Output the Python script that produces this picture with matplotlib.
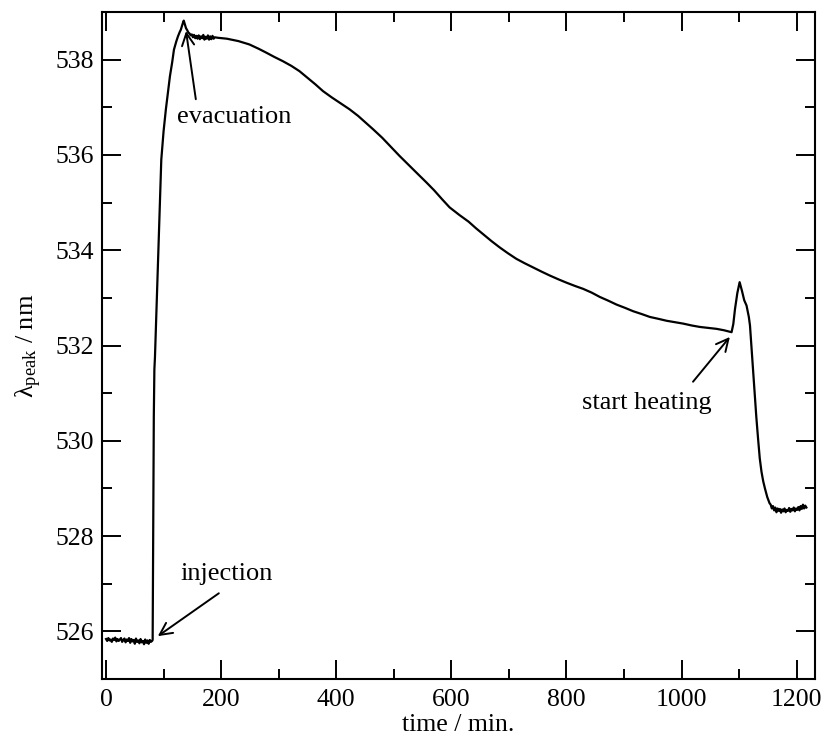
import matplotlib
matplotlib.use("Agg")
import matplotlib.pyplot as plt
from matplotlib.ticker import MultipleLocator

# ---- data ----
t_base = [0, 2, 4, 6, 8, 10, 12, 14, 16, 18, 20, 22, 24, 26, 28, 30, 32, 34, 36, 38, 40,
          42, 44, 46, 48, 50, 52, 54, 56, 58, 60, 62, 64, 66, 68, 70, 72, 74, 76, 78, 80]
v_base = [525.84, 525.80, 525.86, 525.81, 525.83, 525.78, 525.85, 525.82, 525.87, 525.79,
          525.84, 525.80, 525.83, 525.86, 525.78, 525.82, 525.85, 525.77, 525.83, 525.80,
          525.86, 525.76, 525.84, 525.79, 525.82, 525.74, 525.85, 525.78, 525.81, 525.75,
          525.84, 525.77, 525.80, 525.73, 525.83, 525.76, 525.81, 525.74, 525.82, 525.78, 525.80]

t_rise = [81, 82, 83, 84, 85, 87, 89, 91, 93, 96, 100, 104, 108, 111, 115, 118, 122, 125,
          128, 130, 133, 135]
v_rise = [525.82, 528.0, 530.5, 531.5, 531.75, 532.5, 533.25, 534.0, 534.75, 535.9, 536.5,
          536.96, 537.35, 537.65, 537.95, 538.21, 538.38, 538.49, 538.58, 538.63, 538.75,
          538.82]

t_evac = [137, 139, 141, 143, 145, 147, 149, 151, 153, 155, 157, 159, 161, 163, 165, 167,
          169, 171, 173, 175, 177, 179, 181, 183, 185, 187, 189]
v_evac = [538.74, 538.66, 538.62, 538.57, 538.55, 538.51, 538.53, 538.47, 538.52, 538.45,
          538.50, 538.44, 538.51, 538.43, 538.49, 538.45, 538.52, 538.42, 538.48, 538.44,
          538.51, 538.42, 538.49, 538.43, 538.50, 538.44, 538.47]

t_decay = [194, 210, 230, 249, 265, 278, 292, 307, 322, 336, 350, 364, 377, 392, 408, 423,
           438, 451, 464, 480, 495, 510, 525, 541, 557, 570, 584, 597, 614, 630, 643, 655,
           670, 684, 698, 713, 727, 742, 757, 771, 786, 800, 815, 829, 844, 858, 873, 887,
           902, 916, 931, 945, 960, 974, 989, 1003, 1018, 1032, 1047, 1061, 1074, 1087]
v_decay = [538.46, 538.44, 538.39, 538.32, 538.23, 538.15, 538.06, 537.97, 537.87, 537.76,
           537.62, 537.48, 537.34, 537.21, 537.08, 536.96, 536.82, 536.68, 536.54, 536.36,
           536.17, 535.98, 535.80, 535.61, 535.42, 535.26, 535.07, 534.90, 534.74, 534.60,
           534.46, 534.34, 534.19, 534.06, 533.94, 533.82, 533.73, 533.64, 533.55, 533.47,
           533.39, 533.32, 533.25, 533.19, 533.11, 533.02, 532.94, 532.86, 532.79, 532.72,
           532.66, 532.60, 532.56, 532.52, 532.49, 532.46, 532.42, 532.39, 532.37, 532.35,
           532.32, 532.28]

t_heat = [1090, 1093, 1097, 1101, 1105, 1109, 1113, 1117, 1119, 1122, 1125, 1130, 1133,
          1136, 1139, 1142, 1145, 1149, 1153]
v_heat = [532.45, 532.77, 533.10, 533.33, 533.15, 532.95, 532.84, 532.60, 532.42, 531.90,
          531.37, 530.50, 530.05, 529.63, 529.35, 529.15, 529.00, 528.82, 528.69]

t_end = [1155, 1157, 1159, 1161, 1163, 1165, 1167, 1169, 1171, 1173, 1175, 1177, 1179,
         1181, 1183, 1185, 1187, 1189, 1191, 1193, 1195, 1197, 1199, 1201, 1203, 1205,
         1207, 1209, 1211, 1213, 1215, 1217]
v_end = [528.66, 528.58, 528.63, 528.54, 528.60, 528.50, 528.58, 528.53, 528.57, 528.49,
         528.56, 528.52, 528.58, 528.50, 528.55, 528.53, 528.59, 528.51, 528.57, 528.54,
         528.60, 528.52, 528.58, 528.55, 528.61, 528.54, 528.63, 528.57, 528.66, 528.58,
         528.64, 528.60]

time = t_base + t_rise + t_evac + t_decay + t_heat + t_end
lam = v_base + v_rise + v_evac + v_decay + v_heat + v_end

x_ticks = [0, 200, 400, 600, 800, 1000, 1200]
y_ticks = [526, 528, 530, 532, 534, 536, 538]

# annotations: (label, text position, arrow tail, arrow head)
notes = [
    ("injection", (209, 527.2), (196, 526.80), (90, 525.90)),
    ("evacuation", (223, 536.79), (156, 537.17), (139, 538.60)),
    ("start heating", (940, 530.80), (1020, 531.24), (1084, 532.18)),
]

# ---- plotting ----
plt.rcParams['font.family'] = ['Liberation Serif', 'DejaVu Serif']
plt.rcParams['mathtext.fontset'] = 'custom'
plt.rcParams['mathtext.rm'] = 'Liberation Serif'
plt.rcParams['mathtext.it'] = 'Liberation Serif:italic'

fig = plt.figure(figsize=(8.26, 7.38), dpi=100)
ax = fig.add_axes([0.1235, 0.0799, 0.8632, 0.9038])

ax.plot(time, lam, color='black', lw=1.6)

ax.set_xlim(-7, 1232)
ax.set_ylim(525, 539)
ax.set_xticks(x_ticks)
ax.set_yticks(y_ticks)
ax.xaxis.set_minor_locator(MultipleLocator(100))
ax.yaxis.set_minor_locator(MultipleLocator(1))
ax.tick_params(which='both', direction='in', top=True, right=True, width=1.4,
               labelsize=18.5)
ax.tick_params(which='major', length=14)
ax.tick_params(which='minor', length=7)
ax.tick_params(axis='x', pad=7)
ax.tick_params(axis='y', pad=6)
for s in ax.spines.values():
    s.set_linewidth(1.5)

ax.set_xlabel('time / min.', fontsize=18.5, labelpad=2.5)
ax.set_ylabel(r'$\mathrm{\lambda_{peak}}$ / nm', fontsize=19, labelpad=8)

for label, tpos, tail, head in notes:
    ax.text(tpos[0], tpos[1], label, fontsize=19, ha='center', va='center')
    ax.annotate('', xy=head, xytext=tail,
                arrowprops=dict(arrowstyle='->', lw=1.4, color='black',
                                mutation_scale=22, shrinkA=0, shrinkB=0))

fig.savefig('out.png', dpi=100)
